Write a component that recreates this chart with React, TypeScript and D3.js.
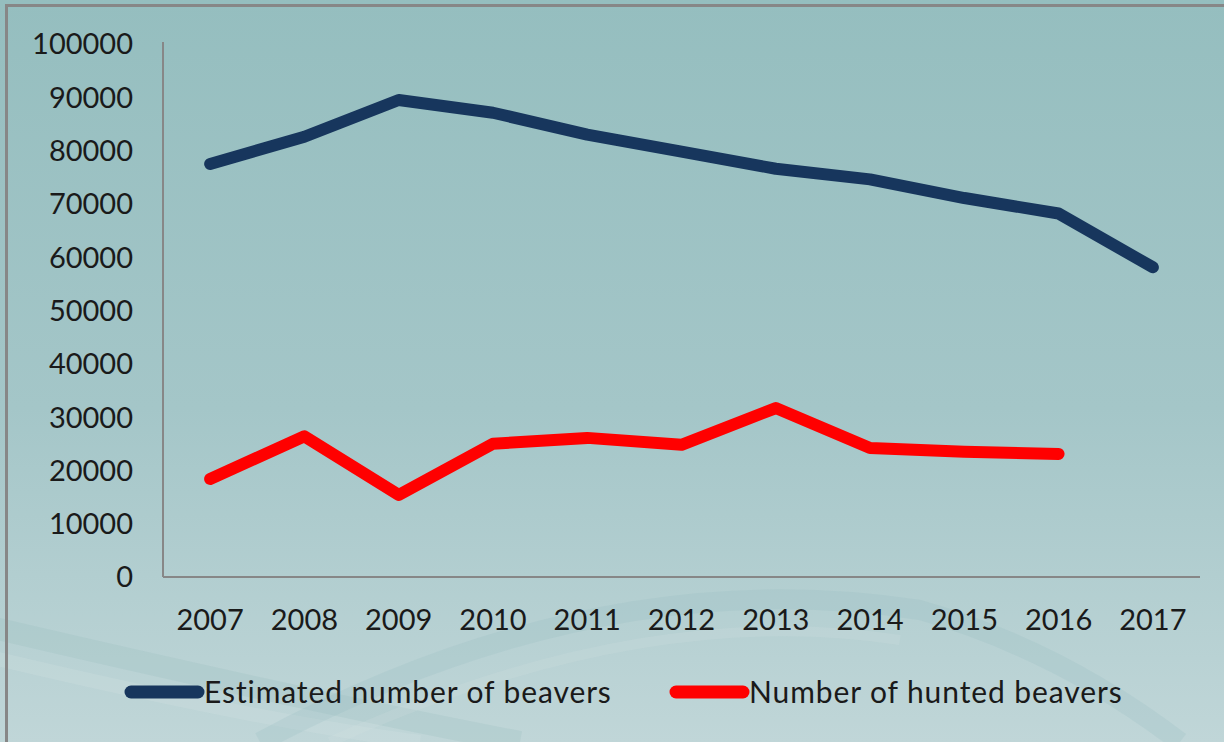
import * as d3 from "d3";

const years = ["2007", "2008", "2009", "2010", "2011", "2012", "2013", "2014", "2015", "2016", "2017"];
const estimated = [77500, 82600, 89500, 87100, 83000, 79800, 76600, 74600, 71100, 68200, 58100];
const hunted = [18400, 26400, 15400, 25000, 26100, 24800, 31700, 24200, 23500, 23100];
const yTicks = [0, 10000, 20000, 30000, 40000, 50000, 60000, 70000, 80000, 90000, 100000];

const seriesNames = ["Estimated number of beavers", "Number of hunted beavers"];
const seriesColors = ["#17365d", "#ff0000"];

const W = 1224;
const H = 742;
const FONT = "Lato, 'Open Sans', sans-serif";

export default function App() {
  const left = 163;
  const right = 1200;
  const top = 44;
  const bottom = 577;

  const x = d3.scalePoint<string>().domain(years).range([left, right]).padding(0.5);
  const y = d3.scaleLinear().domain([0, 100000]).range([bottom, top]);

  const line = d3
    .line<number>()
    .x((_, i) => x(years[i]) as number)
    .y((d) => y(d));

  const series = [estimated, hunted];

  return (
    <svg
      width={W}
      height={H}
      style={{ position: "absolute", left: 0, top: 0 }}
    >
      <defs>
        <linearGradient id="bg" x1="0" y1="0" x2="0" y2="1">
          <stop offset="0" stopColor="#95bebf" />
          <stop offset="0.55" stopColor="#a4c6c8" />
          <stop offset="1" stopColor="#c0d6d8" />
        </linearGradient>
      </defs>
      <rect x={0} y={0} width={W} height={H} fill="url(#bg)" />

      {/* decorative swooshes */}
      <path d="M -40 620 Q 300 700 520 742" fill="none" stroke="#8fb8bb" strokeWidth={22} opacity={0.2} />
      <path d="M -40 650 Q 250 720 420 742" fill="none" stroke="#dbe8e9" strokeWidth={14} opacity={0.18} />
      <path d="M 260 742 Q 600 560 920 610 Q 1060 650 1180 742" fill="none" stroke="#93babd" strokeWidth={20} opacity={0.2} />
      <path d="M 330 742 Q 640 600 900 640" fill="none" stroke="#d6e5e6" strokeWidth={10} opacity={0.18} />

      {/* frame */}
      <path d={`M 6.5 ${H} V 5.5 H ${W}`} fill="none" stroke="#878787" strokeWidth={3} />

      {/* axes */}
      <line x1={left} x2={left} y1={42} y2={bottom} stroke="#878787" strokeWidth={2} />
      <line x1={left} x2={right} y1={bottom} y2={bottom} stroke="#878787" strokeWidth={2} />

      {yTicks.map((t) => (
        <text
          key={t}
          x={133}
          y={y(t)}
          dy="0.36em"
          textAnchor="end"
          fontFamily={FONT}
          fontSize={29}
          fill="#1a1a1a"
        >
          {t}
        </text>
      ))}

      {years.map((yr) => (
        <text
          key={yr}
          x={x(yr)}
          y={620}
          dy="0.36em"
          textAnchor="middle"
          fontFamily={FONT}
          fontSize={29}
          fill="#1a1a1a"
        >
          {yr}
        </text>
      ))}

      {series.map((s, i) => (
        <path
          key={i}
          d={line(s) as string}
          fill="none"
          stroke={seriesColors[i]}
          strokeWidth={12}
          strokeLinecap="round"
          strokeLinejoin="round"
        />
      ))}

      {/* legend */}
      {seriesNames.map((name, i) => {
        const lx = i === 0 ? 131 : 676;
        return (
          <g key={name}>
            <line
              x1={lx}
              x2={lx + 67}
              y1={692}
              y2={692}
              stroke={seriesColors[i]}
              strokeWidth={13}
              strokeLinecap="round"
            />
            <text
              x={lx + 73}
              y={692}
              dy="0.36em"
              fontFamily={FONT}
              fontSize={30}
              letterSpacing={0.9}
              fill="#1a1a1a"
            >
              {name}
            </text>
          </g>
        );
      })}
    </svg>
  );
}
